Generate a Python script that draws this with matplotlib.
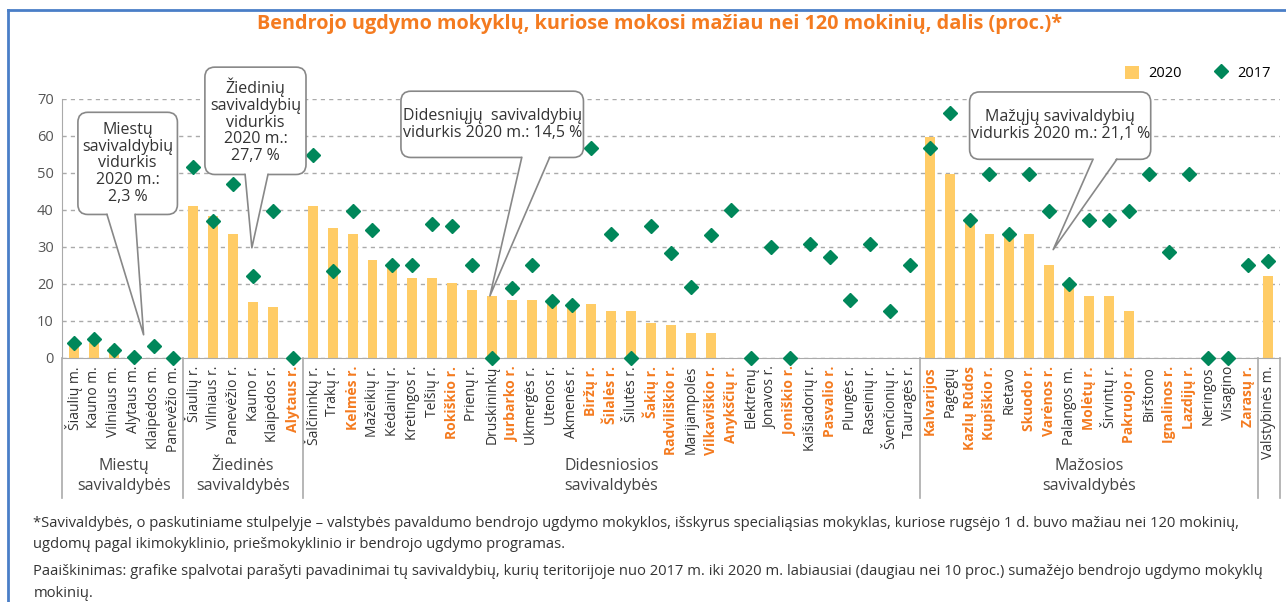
import numpy as np
import matplotlib
matplotlib.use('Agg')
from matplotlib import pyplot as plt
from matplotlib.patches import FancyBboxPatch, Polygon
from matplotlib.lines import Line2D

# municipalities in plot order
names = [
    'Šiaulių m.', 'Kauno m.', 'Vilniaus m.', 'Alytaus m.', 'Klaipėdos m.', 'Panevėžio m.',
    'Šiaulių r.', 'Vilniaus r.', 'Panevėžio r.', 'Kauno r.', 'Klaipėdos r.', 'Alytaus r.',
    'Šalčininkų r.', 'Trakų r.', 'Kelmės r.', 'Mažeikių r.', 'Kėdainių r.', 'Kretingos r.',
    'Telšių r.', 'Rokiškio r.', 'Prienų r.', 'Druskininkų', 'Jurbarko r.', 'Ukmergės r.',
    'Utenos r.', 'Akmenės r.', 'Biržų r.', 'Šilalės r.', 'Šilutės r.', 'Šakių r.',
    'Radviliškio r.', 'Marijampolės', 'Vilkaviškio r.', 'Anykščių r.', 'Elektrėnų',
    'Jonavos r.', 'Joniškio r.', 'Kaišiadorių r.', 'Pasvalio r.', 'Plungės r.',
    'Raseinių r.', 'Švenčionių r.', 'Tauragės r.',
    'Kalvarijos', 'Pagėgių', 'Kazlų Rūdos', 'Kupiškio r.', 'Rietavo', 'Skuodo r.',
    'Varėnos r.', 'Palangos m.', 'Molėtų r.', 'Širvintų r.', 'Pakruojo r.', 'Birštono',
    'Ignalinos r.', 'Lazdijų r.', 'Neringos', 'Visagino', 'Zarasų r.',
    'Valstybinės m.',
]
v2020 = [
    3.9, 4.1, 3.0, 0, 0, 0,
    41.0, 38.4, 33.3, 15.0, 13.6, 0,
    41.0, 35.1, 33.3, 26.5, 25.3, 21.6,
    21.6, 20.2, 18.3, 16.7, 15.6, 15.6,
    15.6, 14.5, 14.5, 12.7, 12.7, 9.3,
    8.8, 6.6, 6.6, 0, 0,
    0, 0, 0, 0, 0,
    0, 0, 0,
    59.6, 49.7, 37.6, 33.3, 33.3, 33.3,
    25.1, 19.9, 16.7, 16.7, 12.7, 0,
    0, 0, 0, 0, 0,
    22.0,
]
v2017 = [
    3.9, 5.1, 2.0, 0.1, 3.2, 0,
    51.6, 37.0, 46.8, 22.0, 39.6, 0,
    54.7, 23.5, 39.6, 34.6, 25.1, 25.1,
    36.1, 35.7, 25.1, 0, 18.8, 25.1,
    15.4, 14.3, 56.7, 33.3, 0, 35.5,
    28.4, 19.1, 33.2, 39.8, 0,
    29.8, 0, 30.7, 27.1, 15.6,
    30.7, 12.7, 25.1,
    56.7, 66.0, 37.3, 49.5, 33.3, 49.5,
    39.6, 19.9, 37.3, 37.3, 39.6, 49.5,
    28.5, 49.5, 0, 0, 25.1,
    26.0,
]
# labels drawn in orange (drop of more than 10 %)
highlighted = {
    'Alytaus r.', 'Kelmės r.', 'Rokiškio r.', 'Jurbarko r.', 'Biržų r.', 'Šilalės r.',
    'Šakių r.', 'Radviliškio r.', 'Vilkaviškio r.', 'Anykščių r.', 'Joniškio r.',
    'Pasvalio r.', 'Kalvarijos', 'Kazlų Rūdos', 'Kupiškio r.', 'Skuodo r.', 'Varėnos r.',
    'Molėtų r.', 'Pakruojo r.', 'Ignalinos r.', 'Lazdijų r.', 'Zarasų r.',
}
groups = ['Miestų\nsavivaldybės', 'Žiedinės\nsavivaldybės',
          'Didesniosios\nsavivaldybės', 'Mažosios\nsavivaldybės']
group_sizes = [6, 6, 31, 17]
yticks = [0, 10, 20, 30, 40, 50, 60, 70]

# callouts: text, box (x0, x1, y0, y1), tail base x0, x1, tip (x, y)
callouts = [
    ('Miestų\nsavivaldybių\nvidurkis\n2020 m.:\n2,3 %', (0.2, 5.2, 38.7, 66.3), (1.66, 3.07), (3.5, 6.2)),
    ('Žiedinių\nsavivaldybių\nvidurkis\n2020 m.:\n27,7 %', (6.58, 11.66, 49.5, 78.5), (8.6, 9.75), (8.94, 29.7)),
    ('Didesniųjų  savivaldybių\nvidurkis 2020 m.: 14,5 %', (16.43, 25.6, 54.1, 72.0), (22.5, 23.9), (20.9, 16.7)),
    ('Mažųjų savivaldybių\nvidurkis 2020 m.: 21,1 %', (45.0, 54.1, 53.6, 71.8), (51.2, 52.4), (49.2, 29.2)),
]

BAR = '#FFCC66'
GREEN = '#00875A'
ORANGE = '#F47B20'
GRAY = '#555555'
LINE = '#AAAAAA'
FRAME = '#4A7EC7'

plt.rcParams['font.family'] = ['Open Sans', 'DejaVu Sans']

fig = plt.figure(figsize=(12.86, 6.02), dpi=100)
ax = fig.add_axes([0.0482, 0.4058, 0.9472, 0.4304])

x = np.arange(len(names))
bars = ax.bar(x, v2020, width=0.5, color=BAR, zorder=2, label='2020')
dots, = ax.plot(x, v2017, 'D', color=GREEN, markersize=7.5, zorder=3, clip_on=False,
                label='2017', linestyle='none')

ax.set_xlim(-0.6, len(names) - 0.4)
ax.set_ylim(0, 70)
ax.set_yticks(yticks)
ax.set_yticklabels([str(t) for t in yticks], fontsize=10.5, color=GRAY)
ax.yaxis.grid(True, linestyle=(0, (3, 3)), color='#AAAAAA', lw=1)
ax.set_axisbelow(True)
for s in ['top', 'right']:
    ax.spines[s].set_visible(False)
ax.spines['left'].set_color(LINE)
ax.spines['bottom'].set_color(LINE)
ax.tick_params(axis='y', length=0, pad=6)
ax.tick_params(axis='x', length=0, pad=6)
ax.set_xticks(x)
ax.set_xticklabels(names, rotation=90, fontsize=10, va='top', ha='center')
for lab in ax.get_xticklabels():
    if lab.get_text() in highlighted:
        lab.set_color(ORANGE)
        lab.set_fontweight('bold')
    else:
        lab.set_color('#333333')

# group separators and labels below axis
trans = ax.get_xaxis_transform()
edges = np.cumsum([0] + group_sizes) - 0.5
for e in [-0.6] + list(edges[1:]) + [len(names) - 0.4]:
    ax.plot([e, e], [0, -0.54], color=LINE, lw=1.2, transform=trans, clip_on=False)
for g, a, b in zip(groups, edges[:-1], edges[1:]):
    ax.text((a + b) / 2, -0.457, g, transform=trans, ha='center', va='center',
            fontsize=11.5, color='#444444', linespacing=1.35)

# callouts
asp = (ax.bbox.width / (ax.get_xlim()[1] - ax.get_xlim()[0])) / (ax.bbox.height / 70)
for txt, (x0, x1, y0, y1), (b0, b1), (tx, ty) in callouts:
    box = FancyBboxPatch((x0, y0), x1 - x0, y1 - y0,
                         boxstyle='round,pad=0,rounding_size=0.5', mutation_aspect=asp,
                         fc='white', ec='#888888', lw=1.2, zorder=5, clip_on=False)
    ax.add_patch(box)
    ax.add_patch(Polygon([(b0, y0 + 0.6), (b1, y0 + 0.6), (tx, ty)], closed=True,
                         fc='white', ec='none', zorder=6, clip_on=False))
    ax.plot([b0, tx, b1], [y0, ty, y0], color='#888888', lw=1.2, zorder=7, clip_on=False)
    ax.text((x0 + x1) / 2, (y0 + y1) / 2, txt, ha='center', va='center', fontsize=11.5,
            color='#333333', linespacing=1.05, zorder=8)

ax.legend([bars, dots], ['2020', '2017'], loc='lower right', bbox_to_anchor=(0.997, 1.045),
          ncol=2, frameon=False, fontsize=10.5, handlelength=1.0, handleheight=1.0,
          columnspacing=2.2, handletextpad=0.6, borderaxespad=0)

fig.text(0.513, 0.960, 'Bendrojo ugdymo mokyklų, kuriose mokosi mažiau nei 120 mokinių, dalis (proc.)*',
         ha='center', va='center', fontsize=14.35, fontweight='bold', color=ORANGE)

notes = [
    (0.869, '*Savivaldybės, o paskutiniame stulpelyje – valstybės pavaldumo bendrojo ugdymo mokyklos, '
            'išskyrus specialiąsias mokyklas, kuriose rugsėjo 1 d. buvo mažiau nei 120 mokinių,'),
    (0.905, 'ugdomų pagal ikimokyklinio, priešmokyklinio ir bendrojo ugdymo programas.'),
    (0.950, 'Paaiškinimas: grafike spalvotai parašyti pavadinimai tų savivaldybių, kurių teritorijoje nuo '
            '2017 m. iki 2020 m. labiausiai (daugiau nei 10 proc.) sumažėjo bendrojo ugdymo mokyklų'),
    (0.986, 'mokinių.'),
]
for yy, t in notes:
    fig.text(0.026, 1 - yy, t, ha='left', va='center', fontsize=10.6, color='#333333')

fig.add_artist(Line2D([0.006, 0.006], [0, 0.983], color=FRAME, lw=2, transform=fig.transFigure))
fig.add_artist(Line2D([0.006, 1.0], [0.983, 0.983], color=FRAME, lw=2, transform=fig.transFigure))

fig.savefig('out.png', dpi=100)
